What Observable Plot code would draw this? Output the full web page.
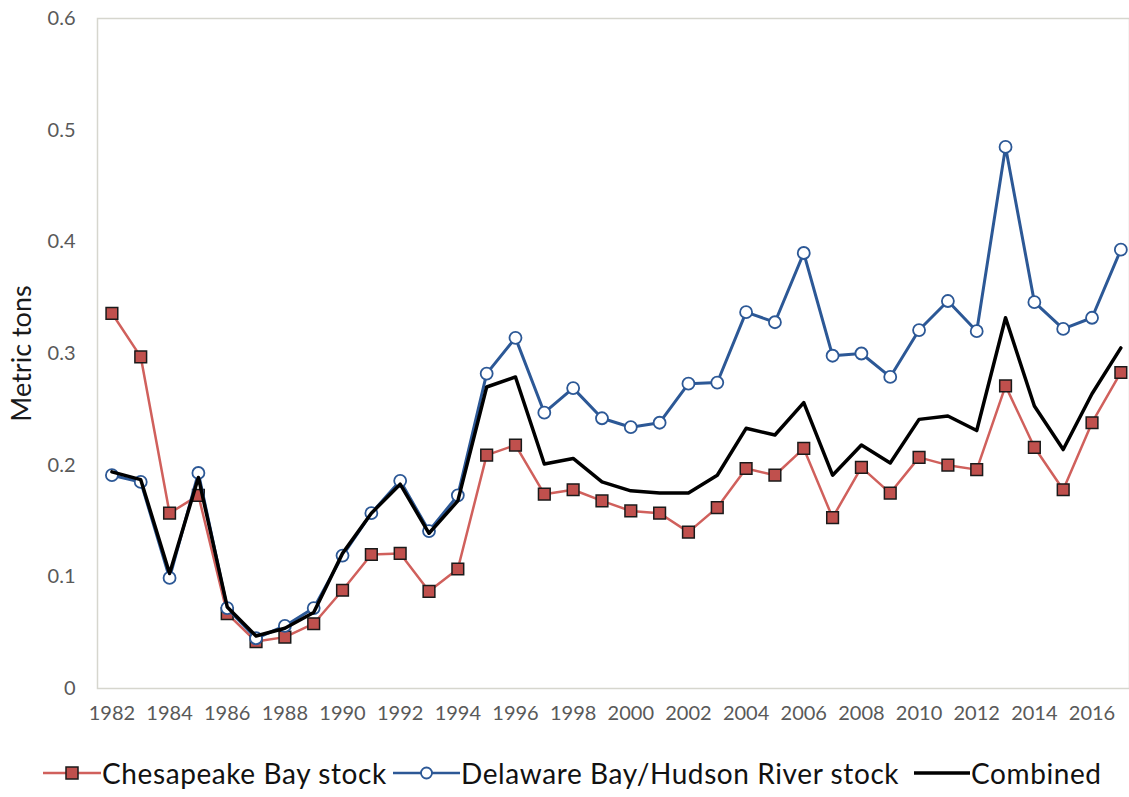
<!DOCTYPE html>
<html>
<head>
<meta charset="utf-8">
<script src="https://cdn.jsdelivr.net/npm/d3@7"></script>
<script src="https://cdn.jsdelivr.net/npm/@observablehq/plot@0.6"></script>
<style>
  html, body { margin: 0; padding: 0; background: #fff; }
  body { width: 1129px; height: 797px; overflow: hidden; font-family: Lato, "Open Sans", sans-serif; }
  #legend { position: relative; width: 1129px; height: 57px; }
  .item { position: absolute; top: 16px; display: flex; align-items: center; font-size: 28px; letter-spacing: 0.6px; color: #111; white-space: nowrap; }
  .item svg { display: block; margin-right: 1px; }
</style>
</head>
<body>
<div id="chart"></div>
<div id="legend"></div>
<script>
const years = d3.range(1982, 2018);
const chesapeake = [0.336, 0.297, 0.157, 0.173, 0.067, 0.042, 0.046, 0.058, 0.088, 0.120,
  0.121, 0.087, 0.107, 0.209, 0.218, 0.174, 0.178, 0.168, 0.159, 0.157,
  0.140, 0.162, 0.197, 0.191, 0.215, 0.153, 0.198, 0.175, 0.207, 0.200,
  0.196, 0.271, 0.216, 0.178, 0.238, 0.283];
const delaware = [0.191, 0.185, 0.099, 0.193, 0.072, 0.045, 0.056, 0.072, 0.119, 0.157,
  0.186, 0.141, 0.173, 0.282, 0.314, 0.247, 0.269, 0.242, 0.234, 0.238,
  0.273, 0.274, 0.337, 0.328, 0.390, 0.298, 0.300, 0.279, 0.321, 0.347,
  0.320, 0.485, 0.346, 0.322, 0.332, 0.393];
const combined = [0.194, 0.187, 0.103, 0.189, 0.073, 0.047, 0.054, 0.068, 0.121, 0.157,
  0.183, 0.139, 0.168, 0.270, 0.279, 0.201, 0.206, 0.185, 0.177, 0.175,
  0.175, 0.191, 0.233, 0.227, 0.256, 0.191, 0.218, 0.202, 0.241, 0.244,
  0.231, 0.332, 0.253, 0.214, 0.264, 0.305];
const xTicks = d3.range(1982, 2017, 2);
const yTicks = [0, 0.1, 0.2, 0.3, 0.4, 0.5, 0.6];
const yTitle = "Metric tons";
const seriesNames = ["Chesapeake Bay stock", "Delaware Bay/Hudson River stock", "Combined"];

const RED_LINE = "#d0605c", RED_FILL = "#c0504d";
const BLUE = "#2c5896";

const ches = years.map((y, i) => ({year: y, value: chesapeake[i]}));
const dela = years.map((y, i) => ({year: y, value: delaware[i]}));
const comb = years.map((y, i) => ({year: y, value: combined[i]}));

const plot = Plot.plot({
  width: 1129,
  height: 740,
  marginLeft: 97,
  marginRight: 0,
  marginTop: 18,
  marginBottom: 52,
  style: {fontFamily: "Lato, 'Open Sans', sans-serif", fontSize: "20px", background: "#fff"},
  x: {domain: [1981.5, 2017.3], ticks: xTicks, tickFormat: d => String(d), tickSize: 0, tickPadding: 17, label: null},
  y: {domain: [0, 0.6], ticks: yTicks, tickFormat: d => d === 0 ? "0" : d.toFixed(1), tickSize: 0, tickPadding: 22, label: null},
  marks: [
    Plot.frame({stroke: "#d6d6ce", strokeWidth: 1.5}),
    Plot.text([yTitle], {frameAnchor: "left", dx: -75, rotate: -90, text: d => d, fontSize: 27, fill: "#1a1a1a", textAnchor: "middle", lineAnchor: "middle"}),
    Plot.line(ches, {x: "year", y: "value", stroke: RED_LINE, strokeWidth: 2.5}),
    Plot.dot(ches, {x: "year", y: "value", symbol: "square", r: 6.6, fill: RED_FILL, stroke: "#1a1a1a", strokeWidth: 1.5}),
    Plot.line(dela, {x: "year", y: "value", stroke: BLUE, strokeWidth: 3}),
    Plot.dot(dela, {x: "year", y: "value", symbol: "circle", r: 6, fill: "#fff", stroke: BLUE, strokeWidth: 1.8}),
    Plot.line(comb, {x: "year", y: "value", stroke: "#000", strokeWidth: 3.5})
  ]
});
plot.querySelectorAll('[aria-label="y-axis tick label"] text, [aria-label="x-axis tick label"] text').forEach(t => t.setAttribute("fill", "#595959"));
document.getElementById("chart").appendChild(plot);

// legend
const legend = d3.select("#legend");
const items = [
  {left: 43, w: 58, kind: "square", color: RED_LINE},
  {left: 393, w: 67, kind: "circle", color: BLUE},
  {left: 914, w: 56, kind: "line", color: "#000"}
];
items.forEach((it, i) => {
  const d = legend.append("div").attr("class", "item").style("left", it.left + "px");
  const s = d.append("svg").attr("width", it.w).attr("height", 20);
  s.append("line").attr("x1", 0).attr("x2", it.w).attr("y1", 10).attr("y2", 10)
    .attr("stroke", it.color).attr("stroke-width", it.kind === "line" ? 3.5 : 2.5);
  if (it.kind === "square") {
    s.append("rect").attr("x", it.w / 2 - 6).attr("y", 4).attr("width", 12).attr("height", 12)
      .attr("fill", RED_FILL).attr("stroke", "#1a1a1a").attr("stroke-width", 1.5);
  } else if (it.kind === "circle") {
    s.append("circle").attr("cx", it.w / 2).attr("cy", 10).attr("r", 5.5)
      .attr("fill", "#fff").attr("stroke", BLUE).attr("stroke-width", 1.8);
  }
  d.append("span").text(seriesNames[i]);
});
</script>
</body>
</html>
